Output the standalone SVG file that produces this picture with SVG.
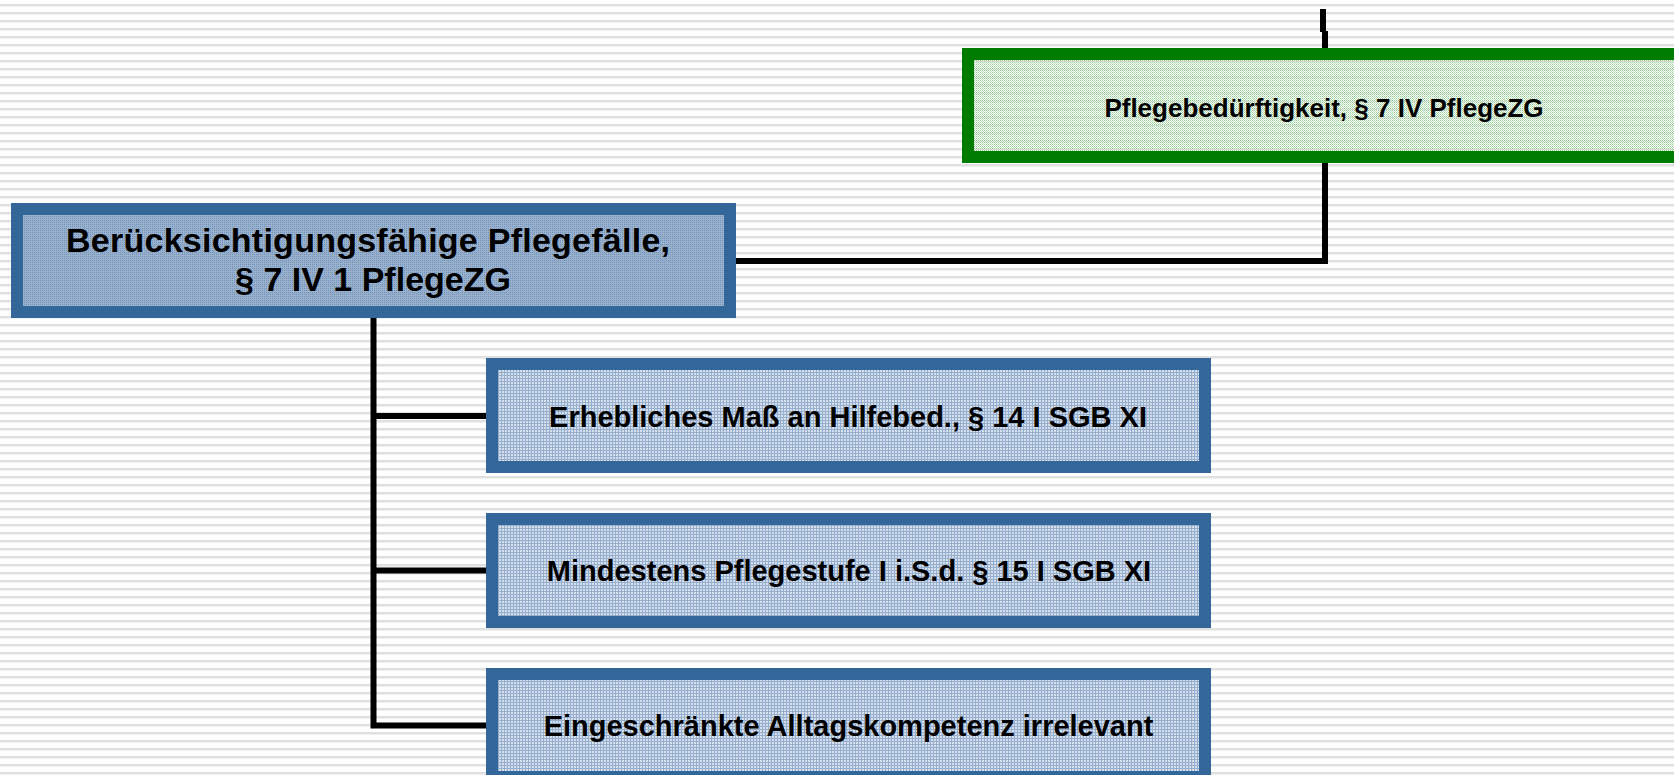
<svg xmlns="http://www.w3.org/2000/svg" width="1674" height="775" viewBox="0 0 1674 775">
  <defs>
    <pattern id="stripes" x="0" y="0" width="8" height="8" patternUnits="userSpaceOnUse">
      <rect x="0" y="0" width="8" height="8" fill="#ffffff"/>
      <rect x="0" y="4" width="8" height="2" fill="#e0e0e0"/>
      <rect x="0" y="6" width="8" height="1" fill="#f0f0f0"/>
    </pattern>
    <pattern id="greenFill" x="0" y="0" width="2" height="2" patternUnits="userSpaceOnUse">
      <rect x="0" y="0" width="1" height="1" fill="#96cc96"/>
      <rect x="1" y="1" width="1" height="1" fill="#bfe0bf"/>
      <rect x="1" y="0" width="1" height="1" fill="#ffffff" fill-opacity="0.5"/>
    </pattern>
    <pattern id="blueFill" x="0" y="0" width="2" height="2" patternUnits="userSpaceOnUse">
      <rect x="0" y="0" width="2" height="2" fill="#8ca7c7" fill-opacity="0.88"/>
      <rect x="0" y="0" width="1" height="1" fill="#7393bb"/>
    </pattern>
    <pattern id="childFill" x="0" y="0" width="3" height="3" patternUnits="userSpaceOnUse">
      <rect x="0" y="0" width="3" height="3" fill="#cfdbea" fill-opacity="0.85"/>
      <rect x="0" y="0" width="3" height="1" fill="#97afcf"/>
      <rect x="0" y="0" width="1" height="3" fill="#97afcf"/>
    </pattern>
    <style>
      .green { fill: url(#greenFill); stroke: #007c00; stroke-width: 12; }
      .main { fill: url(#blueFill); stroke: #336699; stroke-width: 12; }
      .child { fill: url(#childFill); stroke: #336699; stroke-width: 12; }
      .conn { fill: none; stroke: #000000; stroke-width: 6; stroke-linejoin: miter; }
      .t { font-family: "Liberation Sans", Arial, sans-serif; font-weight: bold; fill: #000000; text-anchor: middle; }
    </style>
  </defs>

  <rect x="0" y="0" width="1674" height="775" fill="url(#stripes)"/>

  <g id="connectors">
    <path class="conn" d="M1323 9 V32"/>
    <path class="conn" d="M1325 31 V48"/>
    <path class="conn" d="M1325 163 V261 H736"/>
    <path class="conn" d="M373.5 318 V725.5 H486"/>
    <path class="conn" d="M373.5 416 H486"/>
    <path class="conn" d="M373.5 570.5 H486"/>
  </g>

  <g id="node-pflegebeduerftigkeit">
    <rect class="green" x="968" y="54" width="712" height="103"/>
    <text class="t" x="1324" y="117" font-size="26">Pflegebedürftigkeit, § 7 IV PflegeZG</text>
  </g>

  <g id="node-pflegefaelle">
    <rect class="main" x="17" y="209" width="713" height="103"/>
    <text class="t" x="368" y="252" font-size="34" textLength="604" lengthAdjust="spacing">Berücksichtigungsfähige Pflegefälle,</text>
    <text class="t" x="373" y="291" font-size="34">§ 7 IV 1 PflegeZG</text>
  </g>

  <g id="node-hilfebedarf">
    <rect class="child" x="492" y="364" width="713" height="103"/>
    <text class="t" x="848" y="427" font-size="29">Erhebliches Maß an Hilfebed., § 14 I SGB XI</text>
  </g>

  <g id="node-pflegestufe">
    <rect class="child" x="492" y="519" width="713" height="103"/>
    <text class="t" x="849" y="581" font-size="29">Mindestens Pflegestufe I i.S.d. § 15 I SGB XI</text>
  </g>

  <g id="node-alltagskompetenz">
    <rect class="child" x="492" y="674" width="713" height="103"/>
    <text class="t" x="848.5" y="736" font-size="29">Eingeschränkte Alltagskompetenz irrelevant</text>
  </g>
</svg>
